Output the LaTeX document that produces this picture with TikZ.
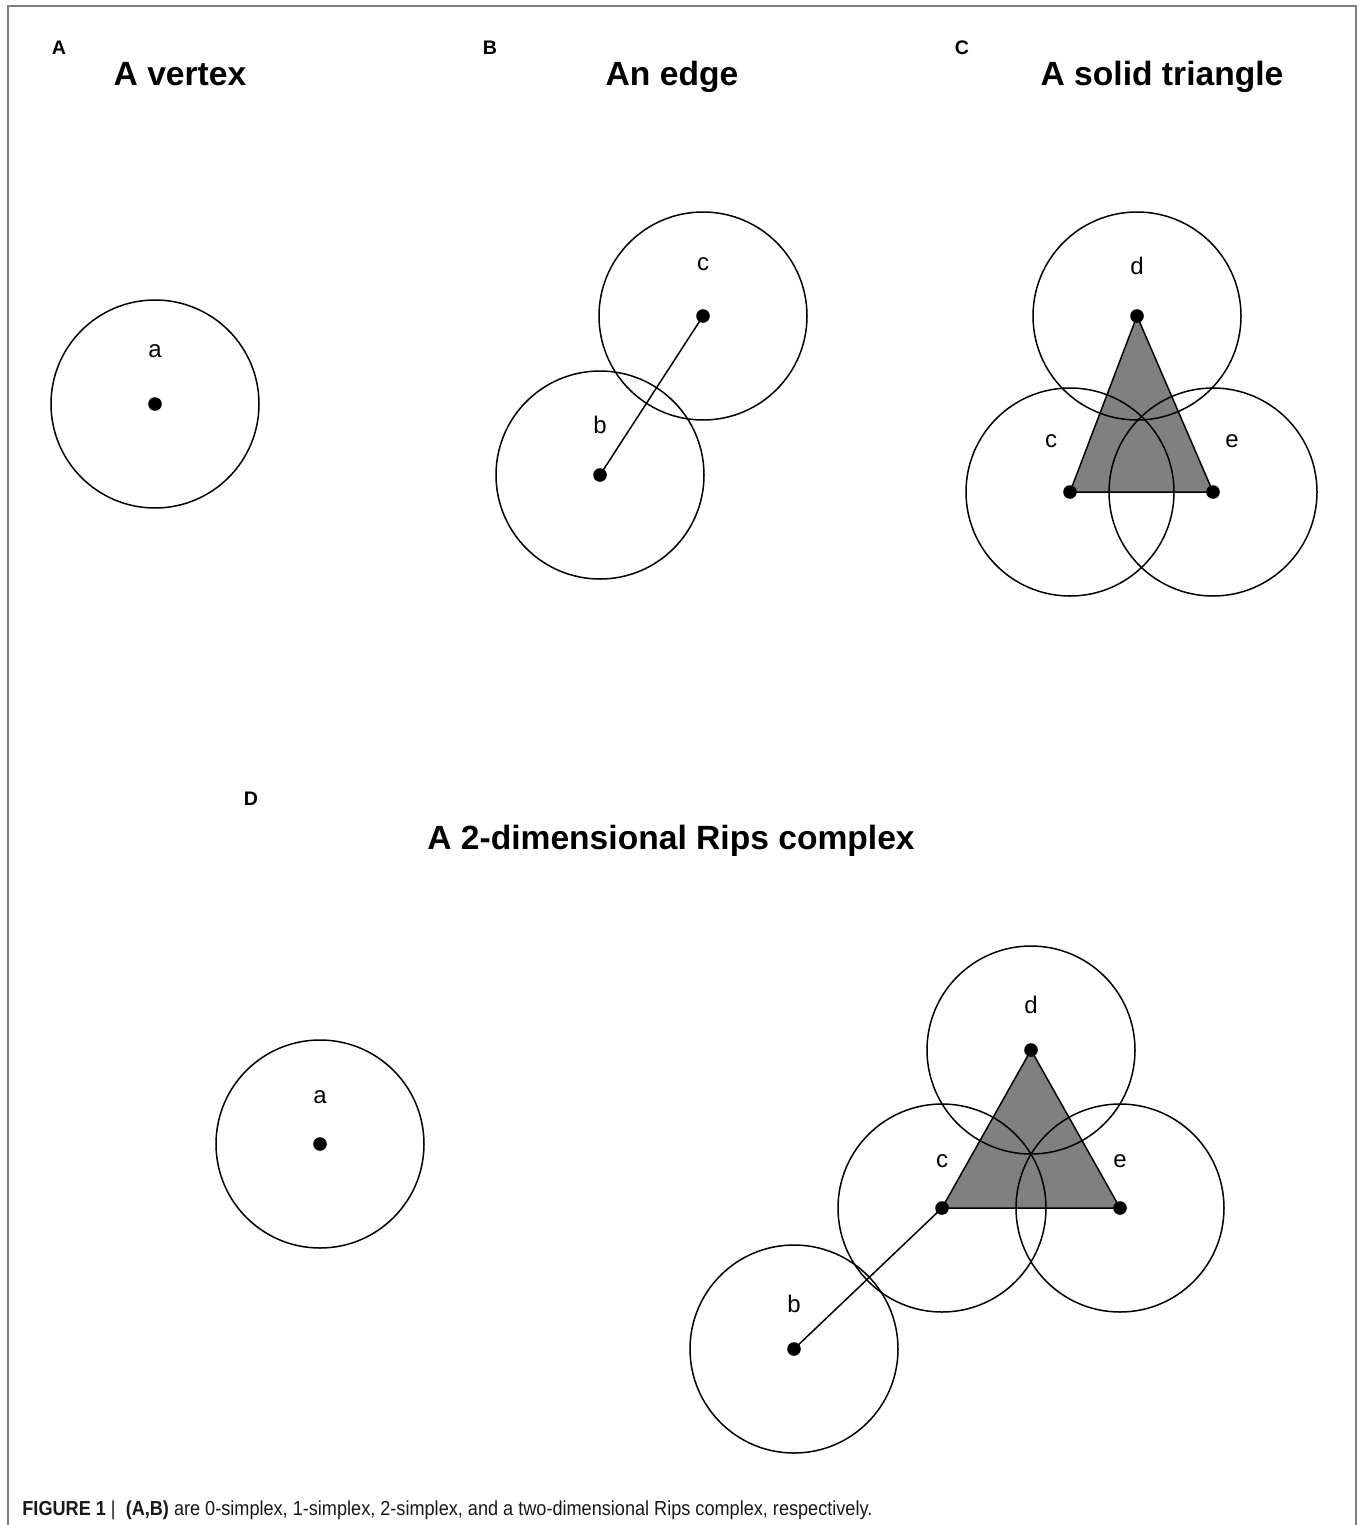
\documentclass[tikz,border=0pt]{standalone}
\usepackage{fontspec}
\setmainfont{Liberation Sans}
\begin{document}
\begin{tikzpicture}[x=0.5pt,y=-0.5pt,
  dot/.style={circle,fill=black,inner sep=0pt,minimum size=6.8pt},
  ball/.style={draw=black,line width=0.75pt},
  edgeline/.style={draw=black,line width=0.75pt},
  tri/.style={fill=gray,draw=black,line width=0.75pt,line join=round},
  lbl/.style={font=\fontsize{12}{14}\selectfont,inner sep=0pt,anchor=base},
  ttl/.style={font=\bfseries\fontsize{16.8}{20}\selectfont,inner sep=0pt,anchor=base},
  pan/.style={font=\bfseries\fontsize{9.8}{12}\selectfont,inner sep=0pt,anchor=base},
  frameline/.style={draw=black!50,line width=1pt}]
\useasboundingbox (0,0) rectangle (1360,1525);
\fill[white] (0,0) rectangle (1360,1525);
% frame (left, top, right)
\draw[frameline] (8,1525) -- (8,6) -- (1356,6) -- (1356,1525);

% panel letters and titles
\node[pan] (pA) at (59,55) {A};
\node[pan] (pB) at (490,55) {B};
\node[pan] (pC) at (962,55) {C};
\node[pan] (pD) at (251,805) {D};
\node[ttl] (tA) at (180,86) {A vertex};
\node[ttl] (tB) at (672,86) {An edge};
\node[ttl] (tC) at (1162,86) {A solid triangle};
\node[ttl] (tD) at (671,849) {A 2-dimensional Rips complex};

% vertex positions
\coordinate (Aa) at (155,404);
\coordinate (Bb) at (600,475);
\coordinate (Bc) at (703,316);
\coordinate (Cc) at (1070,492);
\coordinate (Cd) at (1137,316);
\coordinate (Ce) at (1213,492);
\coordinate (Da) at (320,1144);
\coordinate (Db) at (794,1349);
\coordinate (Dc) at (942,1208);
\coordinate (Dd) at (1031,1050);
\coordinate (De) at (1120,1208);

% simplices
\path[tri] (Cc) -- (Cd) -- (Ce) -- cycle;
\path[tri] (Dc) -- (Dd) -- (De) -- cycle;
\draw[edgeline] (Bb) -- (Bc);
\draw[edgeline] (Db) -- (Dc);

% balls
\foreach \v in {Aa,Bb,Bc,Cc,Cd,Ce,Da,Db,Dc,Dd,De}
  \draw[ball] (\v) circle[radius=104];

% dots
\foreach \v in {Aa,Bb,Bc,Cc,Cd,Ce,Da,Db,Dc,Dd,De}
  \node[dot] (dot\v) at (\v) {};

% labels
\node[lbl] (lAa) at (155,357) {a};
\node[lbl] (lBb) at (600,433) {b};
\node[lbl] (lBc) at (703,270) {c};
\node[lbl] (lCd) at (1137,274) {d};
\node[lbl] (lCc) at (1051,447) {c};
\node[lbl] (lCe) at (1232,447) {e};
\node[lbl] (lDa) at (320,1103) {a};
\node[lbl] (lDb) at (794,1312) {b};
\node[lbl] (lDc) at (942,1167) {c};
\node[lbl] (lDd) at (1031,1013) {d};
\node[lbl] (lDe) at (1120,1167) {e};

% caption
\node[anchor=base west,inner sep=0pt,text=black!90] (cap) at (22,1515)
  {\scalebox{1}[1.12]{\resizebox{425pt}{!}{\fontsize{9}{11}\selectfont\textbf{FIGURE 1} {\textbar}\ \ \textbf{(A,B)} are 0-simplex, 1-simplex, 2-simplex, and a two-dimensional Rips complex, respectively.}}};
\end{tikzpicture}
\end{document}
